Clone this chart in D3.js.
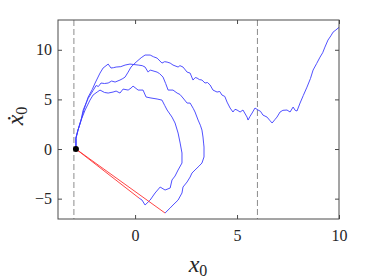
<!DOCTYPE html>
<meta charset="utf-8">
<script src="https://d3js.org/d3.v7.min.js"></script>
<style>
  body { margin: 0; background: #fff; }
</style>
<div id="chart"></div>
<script>
  // start point of every run
  const start = [-2.9, 0];

  // run that escapes to the right
  const longPath = [
    [-2.9, 0], [-2.9, 1.1], [-2.8, 1.9], [-2.65, 2.9], [-2.55, 3.9], [-2.45, 4.4], [-2.3, 5.1],
    [-2.06, 5.9], [-1.91, 6.4], [-1.8, 6.3], [-1.67, 6.65], [-1.5, 6.6], [-1.32, 6.65], [-1.15, 6.85],
    [-0.98, 6.75], [-0.74, 6.95], [-0.6, 7.1], [-0.49, 7.25], [-0.34, 7.75], [-0.2, 8.26], [0.05, 8.76],
    [0.3, 9.2], [0.49, 9.47], [0.74, 9.47], [0.9, 9.3], [1.08, 9.16], [1.32, 8.66], [1.45, 8.8],
    [1.57, 8.76], [1.72, 8.66], [1.86, 8.46], [2.11, 8.26], [2.2, 8.4], [2.35, 8.26], [2.55, 7.75],
    [2.7, 7.65], [2.84, 6.95], [2.95, 7.2], [3.04, 7.15], [3.15, 7.0], [3.28, 6.95], [3.43, 6.65],
    [3.55, 6.7], [3.68, 6.45], [3.82, 5.94], [4.02, 5.74], [4.15, 5.8], [4.26, 5.44], [4.4, 5.3],
    [4.51, 4.73], [4.66, 4.13], [4.8, 3.73], [4.9, 4.0], [5.0, 3.93], [5.15, 3.73], [5.29, 3.93],
    [5.49, 3.22], [5.54, 2.92], [5.64, 3.3], [5.74, 3.63], [5.88, 4.13], [6.03, 3.93], [6.15, 3.8],
    [6.27, 3.42], [6.47, 3.22], [6.6, 2.9], [6.72, 2.62], [6.85, 2.95], [6.96, 3.22], [7.11, 3.73],
    [7.25, 3.9], [7.45, 3.93], [7.6, 3.73], [7.75, 4.23], [7.85, 3.9], [7.94, 3.83], [8.09, 4.63],
    [8.25, 5.4], [8.43, 6.24], [8.6, 7.1], [8.73, 7.96], [8.9, 8.6], [9.07, 9.26], [9.2, 9.7],
    [9.31, 10.27], [9.46, 10.98], [9.6, 11.4], [9.71, 11.78], [9.85, 12.0], [10.05, 12.35], [10.2, 12.6]
  ];

  // outer loop, reset by the red line
  const outerLoop = [
    [-2.9, 0], [-2.9, 1.1], [-2.8, 1.9], [-2.65, 2.9], [-2.5, 4.0], [-2.3, 5.24], [-2.1, 6.0],
    [-1.96, 6.65], [-1.72, 7.65], [-1.57, 8.16], [-1.32, 8.56], [-1.18, 8.16], [-1.05, 8.2],
    [-0.93, 8.26], [-0.7, 8.3], [-0.49, 8.46], [-0.25, 8.56], [0.15, 8.46], [0.35, 8.4], [0.49, 8.26],
    [0.64, 7.75], [0.74, 7.96], [1.08, 7.75], [1.2, 7.6], [1.37, 7.25], [1.5, 6.6], [1.62, 5.94],
    [1.86, 5.94], [2.06, 5.64], [2.2, 5.5], [2.35, 5.14], [2.55, 4.63], [2.7, 4.63], [2.85, 4.1],
    [2.94, 3.73], [3.09, 2.92], [3.2, 2.4], [3.28, 1.91], [3.33, 1.21], [3.36, 0.6], [3.38, 0.2],
    [3.38, -0.8], [3.28, -1.41], [3.14, -1.71], [2.94, -2.11], [2.79, -2.42], [2.7, -2.82],
    [2.55, -3.32], [2.35, -3.83], [2.3, -4.43], [2.11, -5.14], [1.86, -5.64], [1.72, -5.94], [1.47, -6.45]
  ];

  // inner loop, reset by the red line
  const innerLoop = [
    [-2.9, 0], [-2.9, 1.1], [-2.8, 1.9], [-2.65, 2.9], [-2.45, 3.93], [-2.21, 4.93], [-2.06, 5.44],
    [-1.86, 5.74], [-1.72, 5.94], [-1.5, 5.7], [-1.32, 5.64], [-1.08, 5.74], [-0.93, 5.84], [-0.74, 5.64],
    [-0.59, 6.04], [-0.34, 5.94], [-0.2, 6.14], [-0.1, 6.34], [0.15, 5.94], [0.39, 5.94], [0.54, 5.24],
    [0.78, 5.14], [1.08, 5.04], [1.32, 4.93], [1.45, 4.4], [1.57, 3.93], [1.81, 3.22], [1.96, 2.62],
    [2.11, 1.61], [2.21, 0.6], [2.3, -0.4], [2.3, -1.41], [2.11, -2.11], [1.96, -2.72], [1.81, -3.12],
    [1.72, -3.93], [1.47, -4.13], [1.23, -3.83], [0.98, -4.43], [0.74, -5.14], [0.49, -5.64],
    [0.34, -5.14], [0.2, -4.95]
  ];

  const blueRuns = [longPath, outerLoop, innerLoop];
  const resetRuns = [outerLoop, innerLoop];   // these end with a jump back to start

  const dashX = [-3, 6];
  const xTicks = [0, 5, 10];
  const yTicks = [-5, 0, 5, 10];

  const width = 374, height = 280;
  const box = {left: 58, right: 339, top: 20, bottom: 219};
  const serif = "'Liberation Serif', 'DejaVu Serif', serif";

  const svg = d3.select("#chart").append("svg")
      .attr("width", width)
      .attr("height", height)
      .style("font-family", serif);

  const x = d3.scaleLinear().domain([-3.78, 10]).range([box.left, box.right]);
  const y = d3.scaleLinear().domain([-7.05, 13]).range([box.bottom, box.top]);

  svg.append("clipPath").attr("id", "clip")
    .append("rect")
      .attr("x", box.left).attr("y", box.top)
      .attr("width", box.right - box.left).attr("height", box.bottom - box.top);

  // dashed guide lines
  svg.selectAll(".guide")
    .data(dashX)
    .enter().append("line")
      .attr("x1", d => x(d)).attr("x2", d => x(d))
      .attr("y1", box.top).attr("y2", box.bottom)
      .attr("stroke", "#8c8c8c")
      .attr("stroke-width", 1)
      .attr("stroke-dasharray", "6,3");

  const plot = svg.append("g").attr("clip-path", "url(#clip)");

  const line = d3.line().x(d => x(d[0])).y(d => y(d[1]));

  plot.selectAll(".run")
    .data(blueRuns)
    .enter().append("path")
      .attr("d", line)
      .attr("fill", "none")
      .attr("stroke", "#3c3cff")
      .attr("stroke-width", 0.9)
      .attr("stroke-linejoin", "round");

  plot.selectAll(".reset")
    .data(resetRuns)
    .enter().append("line")
      .attr("x1", d => x(d[d.length - 1][0])).attr("y1", d => y(d[d.length - 1][1]))
      .attr("x2", x(start[0])).attr("y2", y(start[1]))
      .attr("stroke", "#ff3030")
      .attr("stroke-width", 0.9);

  svg.append("circle")
    .attr("cx", x(start[0])).attr("cy", y(start[1]))
    .attr("r", 3)
    .attr("fill", "#000");

  // axes, ticks pointing inward on all four sides
  const axisColor = "#4a4a4a";
  function styleAxis(g) {
    g.attr("font-family", null);
    g.select(".domain").remove();
    g.selectAll(".tick line").attr("stroke", axisColor);
    g.selectAll(".tick text")
      .attr("fill", "#262626")
      .style("font-family", serif)
      .style("font-size", "16px");
  }

  svg.append("g")
    .attr("transform", "translate(0," + box.bottom + ")")
    .call(d3.axisBottom(x).tickValues(xTicks).tickSizeInner(-4).tickSizeOuter(0).tickPadding(11))
    .call(styleAxis);

  svg.append("g")
    .attr("transform", "translate(0," + box.top + ")")
    .call(d3.axisTop(x).tickValues(xTicks).tickSizeInner(-4).tickSizeOuter(0).tickFormat(""))
    .call(styleAxis);

  svg.append("g")
    .attr("transform", "translate(" + box.left + ",0)")
    .call(d3.axisLeft(y).tickValues(yTicks).tickSizeInner(-4).tickSizeOuter(0).tickPadding(6))
    .call(styleAxis);

  svg.append("g")
    .attr("transform", "translate(" + box.right + ",0)")
    .call(d3.axisRight(y).tickValues(yTicks).tickSizeInner(-4).tickSizeOuter(0).tickFormat(""))
    .call(styleAxis);

  svg.append("rect")
    .attr("x", box.left).attr("y", box.top)
    .attr("width", box.right - box.left).attr("height", box.bottom - box.top)
    .attr("fill", "none")
    .attr("stroke", axisColor)
    .attr("stroke-width", 1);

  // axis labels
  const xl = svg.append("text")
    .attr("x", 198).attr("y", 272)
    .attr("text-anchor", "middle")
    .attr("fill", "#262626")
    .style("font-family", serif);
  xl.append("tspan").style("font-style", "italic").style("font-size", "24px").text("x");
  xl.append("tspan").attr("dy", 4).style("font-size", "16px").text("0");

  const yl = svg.append("text")
    .attr("transform", "translate(23,116) rotate(-90)")
    .attr("text-anchor", "middle")
    .attr("fill", "#262626")
    .style("font-family", serif);
  yl.append("tspan").style("font-style", "italic").style("font-size", "24px").text("\u1E8B");
  yl.append("tspan").attr("dy", 4).style("font-size", "16px").text("0");
</script>
